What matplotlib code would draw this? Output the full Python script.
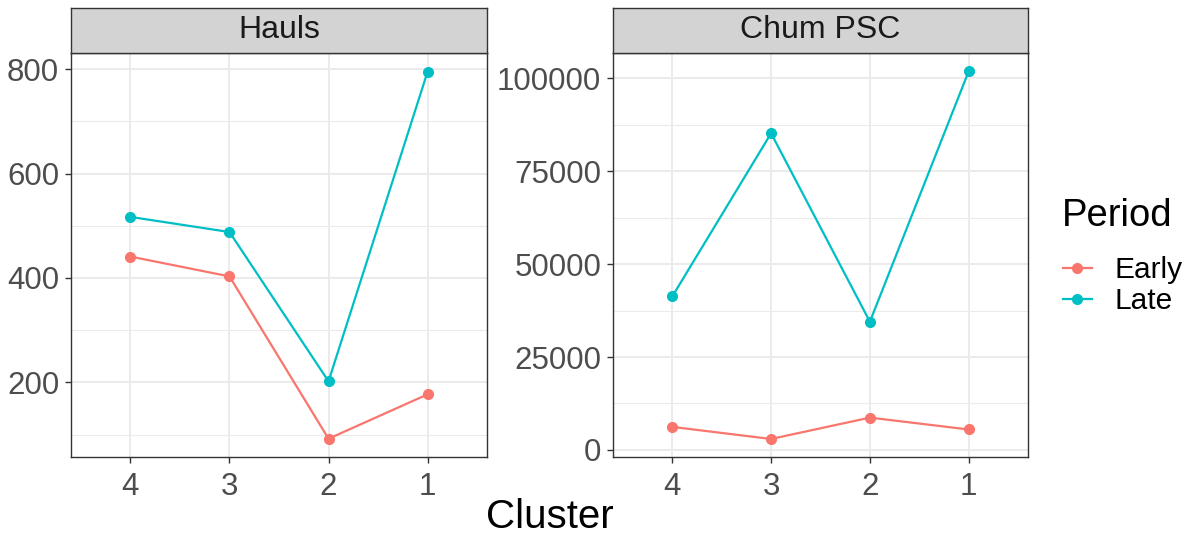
import matplotlib
matplotlib.use("Agg")
import matplotlib.pyplot as plt
from matplotlib.ticker import FixedLocator
from matplotlib.lines import Line2D

plt.rcParams['font.family'] = ['Liberation Sans', 'DejaVu Sans']

clusters = ['4', '3', '2', '1']
periods = ['Early', 'Late']
colors = {'Early': '#F8766D', 'Late': '#00BFC4'}

hauls_early = [441, 403, 92, 177]
hauls_late = [517, 488, 202, 795]
chum_early = [6200, 2950, 8700, 5500]
chum_late = [41300, 85200, 34500, 101900]

panels = [
    ('Hauls', {'Early': hauls_early, 'Late': hauls_late},
     [200, 400, 600, 800], [100, 300, 500, 700], (57, 831)),
    ('Chum PSC', {'Early': chum_early, 'Late': chum_late},
     [0, 25000, 50000, 75000, 100000], [12500, 37500, 62500, 87500], (-1900, 106800)),
]

W, H = 1195, 535
fig = plt.figure(figsize=(W / 100, H / 100), dpi=100)

boxes = [(71, 487), (613, 1028)]
top, bottom, strip_top = 53, 457, 8

for (title, data, major, minor, ylim), (x0, x1) in zip(panels, boxes):
    ax = fig.add_axes([x0 / W, 1 - bottom / H, (x1 - x0) / W, (bottom - top) / H])
    xs = list(range(len(clusters)))
    for p in periods:
        ax.plot(xs, data[p], color=colors[p], lw=1.6, marker='o', ms=7, zorder=3)
    ax.set_xlim(-0.6, len(clusters) - 0.4)
    ax.set_ylim(*ylim)
    ax.set_xticks(xs)
    ax.set_xticklabels(clusters)
    ax.set_yticks(major)
    ax.set_yticklabels([str(v) for v in major])
    ax.yaxis.set_minor_locator(FixedLocator(minor))
    ax.grid(True, which='major', color='#EBEBEB', lw=1.4, zorder=0)
    ax.grid(True, which='minor', axis='y', color='#EBEBEB', lw=0.8, zorder=0)
    ax.tick_params(axis='both', which='major', labelsize=22.5, colors='#333333',
                   labelcolor='#4D4D4D', length=4.5, width=1, pad=4)
    ax.tick_params(axis='x', which='major', pad=6)
    ax.tick_params(axis='y', which='minor', length=0)
    for s in ax.spines.values():
        s.set_color('#333333')
        s.set_linewidth(1)
    ax.set_axisbelow(True)

    # facet strip
    sax = fig.add_axes([x0 / W, 1 - top / H, (x1 - x0) / W, (top - strip_top) / H])
    sax.set_xticks([])
    sax.set_yticks([])
    sax.set_facecolor('#D3D3D3')
    for s in sax.spines.values():
        s.set_color('#333333')
        s.set_linewidth(1)
    sax.text(0.5, 0.5, title, ha='center', va='center', fontsize=23,
             color='#1A1A1A', transform=sax.transAxes)

fig.text(549.5 / W, 1 - 517 / H, 'Cluster', ha='center', va='center', fontsize=29)

# legend
fig.text(1062 / W, 1 - 226 / H, 'Period', ha='left', va='baseline', fontsize=27.5)
handles = [Line2D([], [], color=colors[p], lw=1.6, marker='o', ms=7) for p in periods]
leg = fig.legend(handles, periods, loc='upper left',
                 bbox_to_anchor=(1063 / W, 1 - 256 / H), frameon=False,
                 borderpad=0, borderaxespad=0,
                 fontsize=21.5, handlelength=0.97,
                 handletextpad=0.77, labelspacing=0.1)

fig.savefig('out.png', dpi=100)
